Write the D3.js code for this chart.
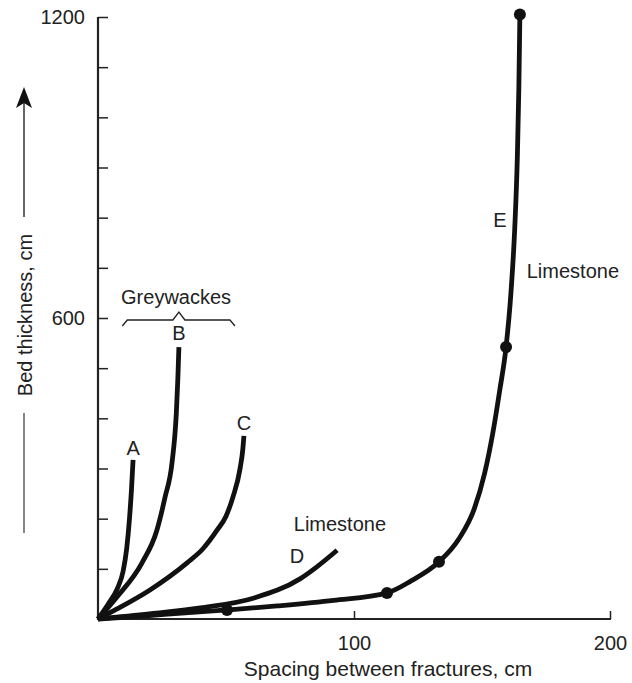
<!DOCTYPE html>
<meta charset="utf-8">
<style>
    body { margin: 0; background: #fff; }
    svg text { font-family: "Liberation Sans", Arial, sans-serif; fill: #222; }
    .tick text { font-size: 20px; }
</style>
<body>
<div id="plotarea"></div>
<script src="https://cdn.jsdelivr.net/npm/d3@7"></script>
<script>

    // curves: [spacing cm, bed thickness cm]
    var curveA = [[0, 0], [4, 30], [7.5, 60], [9.8, 95], [11.2, 140], [12.3, 200], [13.1, 260], [13.7, 317]];
    var curveB = [[0, 0], [7.4, 44], [17.2, 112], [23, 177], [26.2, 243], [28.9, 311], [30.6, 411], [31.2, 480], [31.6, 542]];
    var curveC = [[0, 0], [7.4, 20], [20.3, 58], [34.8, 112], [41, 140], [46.5, 177], [50, 205], [52.7, 243],
        [55.5, 300], [56.6, 340], [57, 365]];
    var curveD = [[0, 0], [20, 10], [40, 22], [61, 42], [78.9, 80], [85.5, 104], [93.4, 137]];
    var curveE = [[0, 0], [20, 7], [50.4, 18], [70, 26], [92, 37], [112.9, 52], [122, 75], [133.2, 114],
        [141, 160], [147, 220], [151, 290], [154.2, 370], [156.9, 455], [159.4, 542], [161.3, 650],
        [162.8, 780], [163.8, 920], [164.4, 1060], [164.8, 1205]];
    var pointsE = [[50.4, 18], [112.9, 52], [133.2, 114], [159.4, 542], [164.8, 1205]];

    var yTicks = [100, 200, 300, 400, 500, 600, 700, 800, 900, 1000, 1100, 1200];
    var yTickLabels = [600, 1200];
    var xTicks = [100, 200];

    var curveLabels = [
        {text: "A", x: 13.7, y: 340},
        {text: "B", x: 31.6, y: 570},
        {text: "C", x: 57, y: 390},
        {text: "D", x: 77.7, y: 125},
        {text: "Limestone", x: 94.5, y: 190},
        {text: "E", x: 157, y: 795},
        {text: "Limestone", x: 185.5, y: 693},
        {text: "Greywackes", x: 30.5, y: 642}
    ];

    var width = 632, height = 683;

    var x = d3.scaleLinear().domain([0, 200]).range([98, 610]);
    var y = d3.scaleLinear().domain([0, 1200]).range([619, 17]);

    var svg = d3.select("#plotarea").append("svg")
            .attr("width", width)
            .attr("height", height);

    // axes
    var yAxis = d3.axisRight(y)
            .tickValues(yTicks)
            .tickSize(10)
            .tickFormat(function(d) { return yTickLabels.indexOf(d) >= 0 ? d : ""; });

    var gy = svg.append("g")
            .attr("transform", "translate(" + x(0) + ",0)")
            .call(yAxis);
    gy.select(".domain").remove();
    gy.selectAll(".tick line").attr("stroke", "#222").attr("stroke-width", 1.5);
    gy.selectAll(".tick text").attr("text-anchor", "end").attr("x", -13);

    var xAxis = d3.axisTop(x)
            .tickValues(xTicks)
            .tickSize(8)
            .tickFormat(d3.format("d"));

    var gx = svg.append("g")
            .attr("transform", "translate(0," + y(0) + ")")
            .call(xAxis);
    gx.select(".domain").remove();
    gx.selectAll(".tick line").attr("stroke", "#222").attr("stroke-width", 1.5);
    gx.selectAll(".tick text").attr("y", 17).attr("dy", "0.71em");

    svg.append("line")
            .attr("x1", x(0)).attr("x2", x(0))
            .attr("y1", y(0) + 1).attr("y2", y(1200))
            .attr("stroke", "#222").attr("stroke-width", 2.2);
    svg.append("line")
            .attr("x1", x(0) - 1).attr("x2", x(200) + 1)
            .attr("y1", y(0)).attr("y2", y(0))
            .attr("stroke", "#222").attr("stroke-width", 2.2);

    // curves
    var line = d3.line()
            .x(function(d) { return x(d[0]); })
            .y(function(d) { return y(d[1]); })
            .curve(d3.curveMonotoneX);

    svg.selectAll(".curve")
            .data([curveA, curveB, curveC, curveD, curveE])
            .enter().append("path")
            .attr("class", "curve")
            .attr("d", line)
            .attr("fill", "none")
            .attr("stroke", "#111")
            .attr("stroke-width", 4.8)
            .attr("stroke-linecap", "butt");

    svg.selectAll(".dot")
            .data(pointsE)
            .enter().append("circle")
            .attr("class", "dot")
            .attr("cx", function(d) { return x(d[0]); })
            .attr("cy", function(d) { return y(d[1]); })
            .attr("r", 6)
            .attr("fill", "#111");

    // labels
    svg.selectAll(".clabel")
            .data(curveLabels)
            .enter().append("text")
            .attr("class", "clabel")
            .attr("x", function(d) { return x(d.x); })
            .attr("y", function(d) { return y(d.y); })
            .attr("dy", "0.35em")
            .attr("text-anchor", "middle")
            .style("font-size", "20px")
            .text(function(d) { return d.text; });

    // greywackes brace
    var bx0 = x(9.5), bx1 = x(53.5), bm = x(31.6), by = y(596);
    svg.append("path")
            .attr("d", "M" + bx0 + "," + (by + 6) + " L" + (bx0 + 5) + "," + by +
                    " L" + (bm - 6) + "," + by + " L" + bm + "," + (by - 8) +
                    " L" + (bm + 6) + "," + by + " L" + (bx1 - 5) + "," + by +
                    " L" + bx1 + "," + (by + 6))
            .attr("fill", "none")
            .attr("stroke", "#222")
            .attr("stroke-width", 1.3);

    // axis titles
    svg.append("text")
            .attr("x", 388)
            .attr("y", 669)
            .attr("dy", "0.35em")
            .attr("text-anchor", "middle")
            .style("font-size", "21px")
            .text("Spacing between fractures, cm");

    svg.append("text")
            .attr("transform", "translate(25,315) rotate(-90)")
            .attr("dy", "0.35em")
            .attr("text-anchor", "middle")
            .style("font-size", "20px")
            .text("Bed thickness, cm");

    svg.append("line")
            .attr("x1", 24).attr("x2", 24)
            .attr("y1", 413).attr("y2", 533)
            .attr("stroke", "#444").attr("stroke-width", 1.3);
    svg.append("line")
            .attr("x1", 24).attr("x2", 24)
            .attr("y1", 217).attr("y2", 100)
            .attr("stroke", "#333").attr("stroke-width", 1.5);
    svg.append("path")
            .attr("d", "M24,87 L16,108 L24,103 L32,108 Z")
            .attr("fill", "#111");

</script>
